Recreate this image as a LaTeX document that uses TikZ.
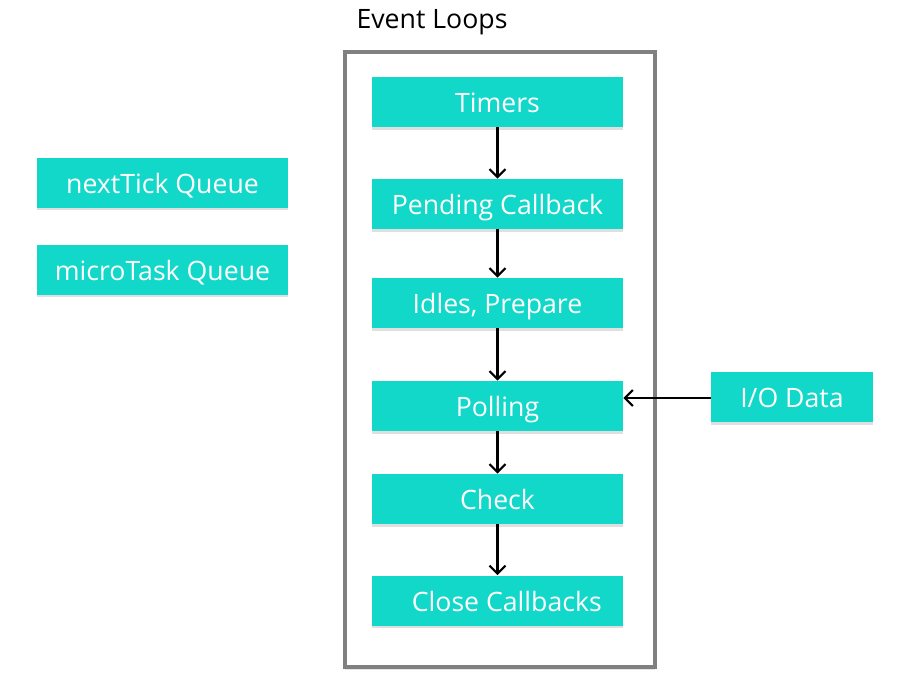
\documentclass[tikz,border=0pt]{standalone}
\usepackage{fontspec}
\setmainfont{Open Sans}
\usetikzlibrary{arrows.meta,shadows}
\definecolor{teal1}{HTML}{12D8C9}
\definecolor{frame}{HTML}{808080}
\tikzset{
  stage/.style={fill=teal1, text=white, inner sep=0pt, minimum width=188.25pt, minimum height=37.5pt,
    text height=18pt, text depth=2.2pt,
    font=\fontsize{20}{24}\selectfont, drop shadow={shadow xshift=0pt, shadow yshift=-2pt, opacity=0.25, fill=gray}},
  flow/.style={draw=black, line width=1.6pt, -{Straight Barb[length=6pt,width=12pt,line width=1.6pt]}},
}
\begin{document}
\begin{tikzpicture}[x=0.75pt,y=-0.75pt]
\useasboundingbox[fill=white] (0,0) rectangle (915,679);
\node[font=\fontsize{20}{24}\selectfont, text=black] (title) at (432,22) {Event Loops};
\draw[frame, line width=2.4pt, fill=white, drop shadow={shadow xshift=0pt, shadow yshift=-2pt, opacity=0.2, fill=gray}] (345,52) rectangle (655,667);
\node[stage] (timers) at (497.5,102) {Timers};
\node[stage] (pending) at (497.5,204) {Pending Callback};
\node[stage] (idle) at (497.5,303) {Idles, Prepare};
\node[stage] (poll) at (497.5,406) {Polling};
\node[stage] (check) at (497.5,499) {Check};
\node[stage] (close) at (497.5,600.5) {\hspace{14pt}Close Callbacks};
\node[stage] (tick) at (162.5,182.5) {nextTick Queue};
\node[stage] (micro) at (162.5,269.5) {microTask Queue};
\node[stage, minimum width=121.5pt] (io) at (792,397) {I/O Data};
\draw[flow] (timers) -- (pending);
\draw[flow] (pending) -- (idle);
\draw[flow] (idle) -- (poll);
\draw[flow] (poll) -- (check);
\draw[flow] (check) -- (close);
\draw[flow] (io.west |- 0,398) -- (poll.east |- 0,398);
\end{tikzpicture}
\end{document}
